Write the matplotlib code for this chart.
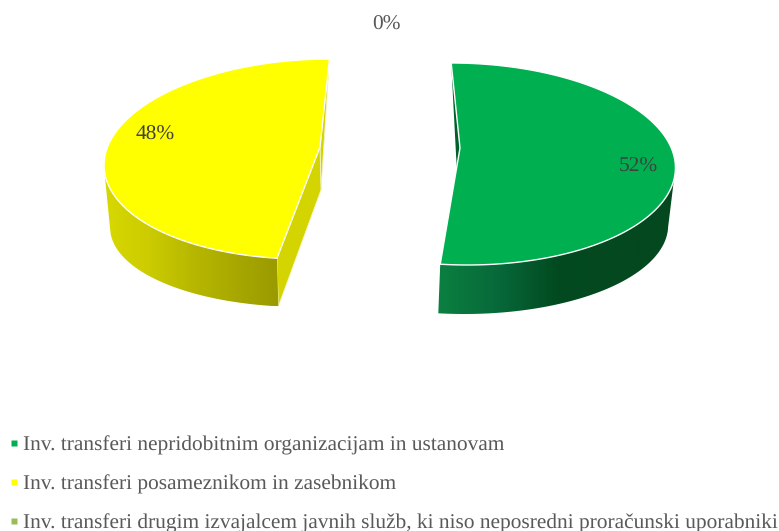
import numpy as np
from matplotlib import pyplot as plt
from matplotlib.colors import LinearSegmentedColormap
from matplotlib.patches import Polygon

labels = ['Inv. transferi nepridobitnim organizacijam in ustanovam',
          'Inv. transferi posameznikom in zasebnikom',
          'Inv. transferi drugim izvajalcem javnih služb, ki niso neposredni proračunski uporabniki']
shares = [52, 48, 0]
pct_labels = ['52%', '48%', '0%']
colors = ['#00b050', '#ffff00', '#9bbb59']

# pie geometry in pixels: top rim, bottom rim (cx, cy, rx, ry, skew)
top_rims = [(458, 164, 216, 101, 0.08), (318, 159, 212, 100, -0.13)]
low_rims = [(460, 224, 207, 90, 0.035), (320, 223, 205, 84, -0.137)]
apexes = [(460, 148), (320, 147)]
low_apexes = [(458, 192), (321, 190)]
# visible angle range of the outer wall, clockwise from the top
wall_ranges = [(92, None), (None, 264)]
wall_grads = [['#0b8040', '#07693a', '#024a20', '#04481f', '#04481f'],
              ['#d8d800', '#cccc00', '#b8b800', '#a8a800', '#9a9a00']]
cut_colors = ['#00602a', '#d4d400']
label_pos = [(638, 167), (155, 135), (386, 25)]
legend_y = [443, 482, 521]

plt.rcParams['font.family'] = ['Liberation Serif', 'DejaVu Serif']
plt.rcParams['text.hinting'] = 'no_hinting'


def rim(geom, apex_y, theta):
    cx, cy, rx, ry, k = geom
    t = np.radians(theta)
    y = cy - ry * np.cos(t)
    x = cx + rx * np.sin(t) + k * (y - apex_y)
    return np.column_stack([x, y])


fig = plt.figure(figsize=(7.79, 5.31), dpi=100)
ax = fig.add_axes([0, 0, 1, 1])

start = 0.0
for i in range(2):
    sweep = shares[i] / sum(shares) * 360
    a, b = start, start + sweep
    start = b
    theta = np.linspace(a, b, 200)
    top = rim(top_rims[i], apexes[i][1], theta)
    low = rim(low_rims[i], low_apexes[i][1], theta)

    # cut faces
    if i == 1:
        back = np.array([top[-1], apexes[i], low_apexes[i]])
        ax.add_patch(Polygon(back, fc=cut_colors[i], ec='#f4f4c0', lw=0.6, zorder=2))
        front = np.array([top[0], apexes[i], low_apexes[i], low[0]])
        ax.add_patch(Polygon(front, fc=cut_colors[i], ec='#f4f4c0', lw=0.6, zorder=2))
    else:
        back = np.array([top[0], apexes[i], low_apexes[i]])
        ax.add_patch(Polygon(back, fc=cut_colors[i], ec='none', zorder=2))

    # outer wall with gradient
    wa = wall_ranges[i][0] if wall_ranges[i][0] is not None else a
    wb = wall_ranges[i][1] if wall_ranges[i][1] is not None else b
    th = np.linspace(wa, wb, 150)
    wall = np.vstack([rim(top_rims[i], apexes[i][1], th),
                      rim(low_rims[i], low_apexes[i][1], th)[::-1]])
    x0, x1 = wall[:, 0].min(), wall[:, 0].max()
    y0, y1 = wall[:, 1].min(), wall[:, 1].max()
    cmap = LinearSegmentedColormap.from_list('wall', wall_grads[i])
    im = ax.imshow(np.linspace(0, 1, 256)[None, :], cmap=cmap, aspect='auto',
                   extent=(x0, x1, y1, y0), zorder=3)
    clip = Polygon(wall, transform=ax.transData, fc='none', ec='none')
    ax.add_patch(clip)
    im.set_clip_path(clip)

    # top surface
    surf = np.vstack([apexes[i], top])
    ax.add_patch(Polygon(surf, fc=colors[i], ec='#ffffff', lw=1.0, zorder=4,
                         joinstyle='round'))

for txt, (x, y), c in zip(pct_labels, label_pos, ['#404040', '#404040', '#595959']):
    ax.text(x, y, txt, ha='center', va='center', fontsize=15.4, color=c, zorder=6)

for lab, y, c in zip(labels, legend_y, colors):
    ax.plot([14], [y], marker='s', ms=4.2, color=c, mec='none', zorder=5)
    ax.text(23, y + 2, lab, ha='left', va='center', fontsize=15.4, color='#595959', zorder=6)

ax.set_xlim(0, 779)
ax.set_ylim(531, 0)
ax.axis('off')
fig.savefig('out.png', dpi=100)
